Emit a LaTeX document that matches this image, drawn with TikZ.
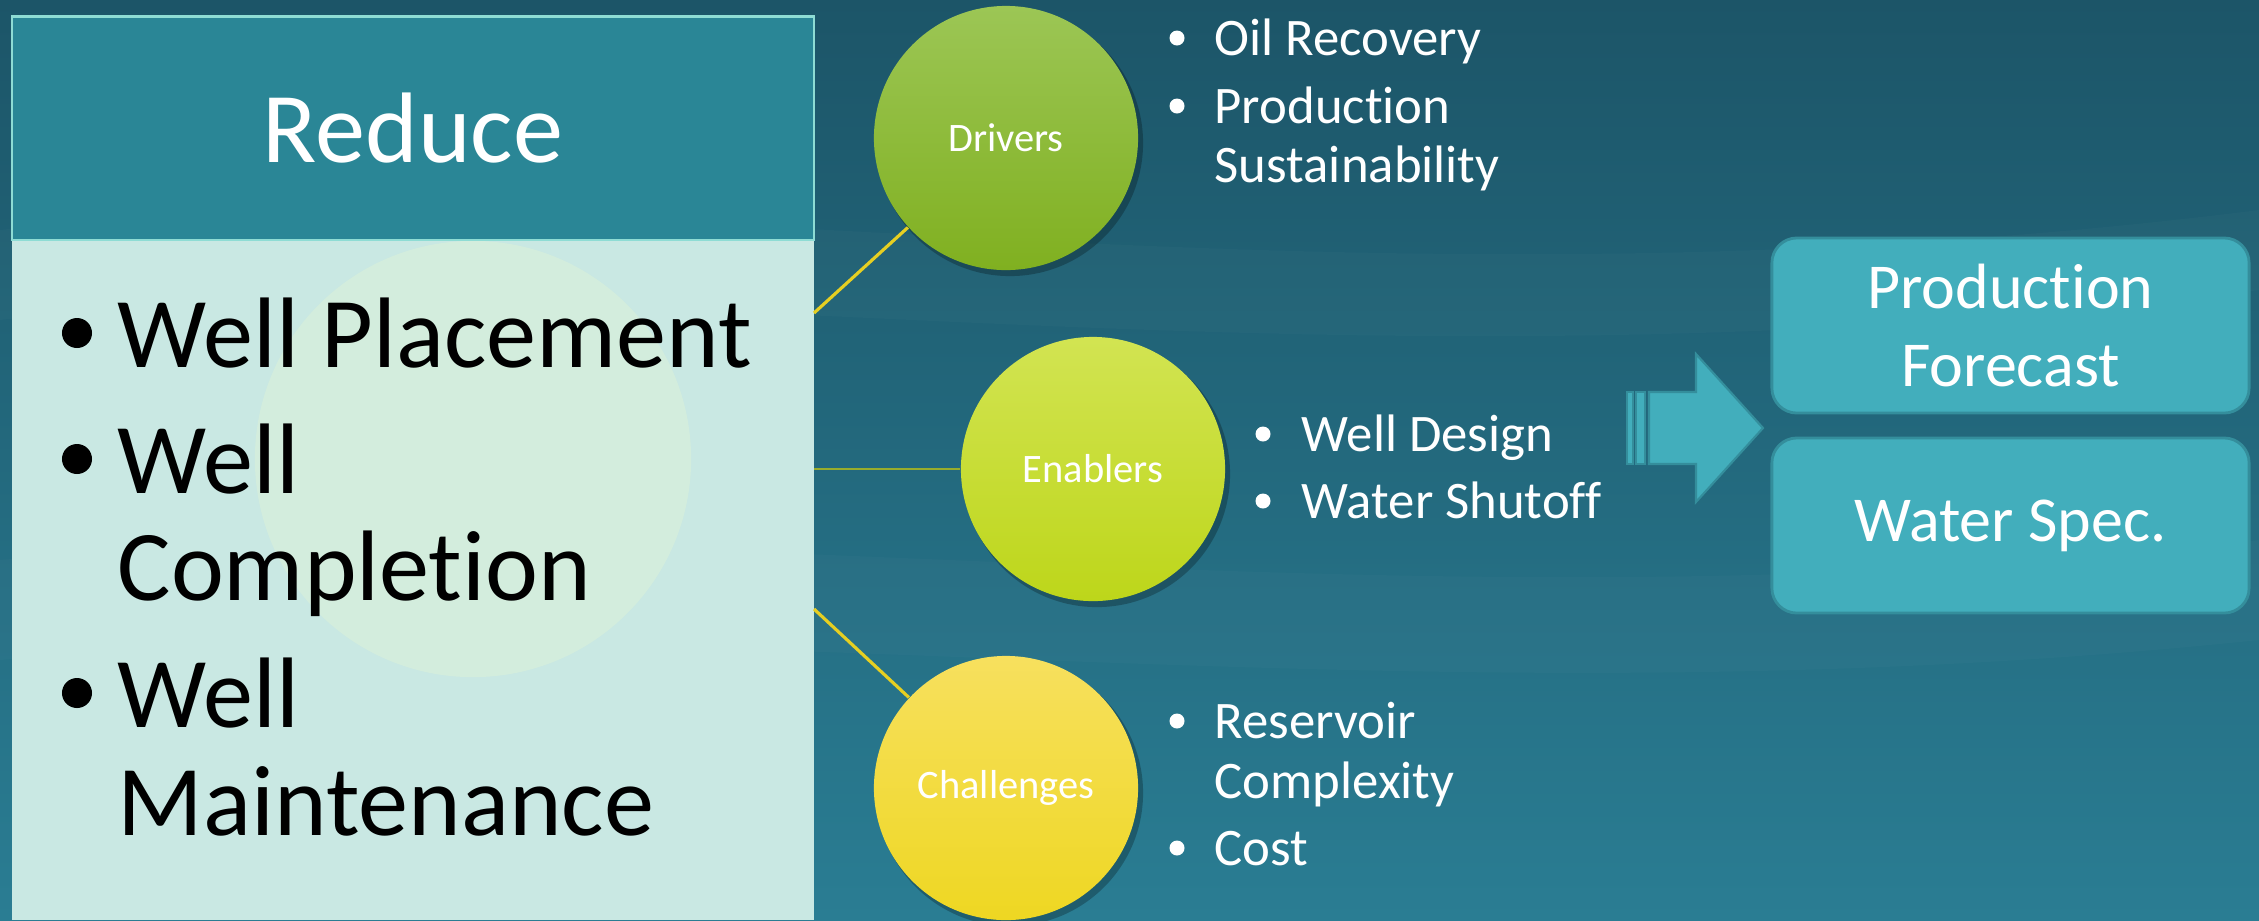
\documentclass[tikz,border=0pt]{standalone}
\usepackage{fontspec}
\setmainfont{Carlito}[Ligatures={NoCommon}]
\usepackage{tikz}

\definecolor{bgtop}{HTML}{1C5568}
\definecolor{bgbot}{HTML}{2A7D93}
\definecolor{headfill}{HTML}{2A8696}
\definecolor{bodyfill}{HTML}{C9E8E3}
\definecolor{ghost}{HTML}{D3EDDD}
\definecolor{rim}{HTML}{8EDCD4}
\definecolor{linkyel}{HTML}{E6CF22}
\definecolor{linkolive}{HTML}{98AC2C}
\definecolor{drvtop}{HTML}{9CC655}
\definecolor{drvbot}{HTML}{80B020}
\definecolor{enbtop}{HTML}{D2E452}
\definecolor{enbbot}{HTML}{BDD61A}
\definecolor{chltop}{HTML}{F7E05E}
\definecolor{chlbot}{HTML}{EED722}
\definecolor{boxfill}{HTML}{42AEBC}
\definecolor{boxline}{HTML}{348E9C}

\begin{document}
\begin{tikzpicture}[x=0.01cm, y=-0.01cm,
  big/.style={inner sep=0pt, anchor=base west, text=black, font=\fontsize{28.5}{30}\selectfont},
  small/.style={inner sep=0pt, anchor=base west, text=white, font=\fontsize{15}{16}\selectfont},
  ball/.style={circle, inner sep=0pt, minimum size=2.64cm, text=white, font=\fontsize{11.5}{13}\selectfont},
  outbox/.style={rounded corners=0.25cm, fill=boxfill, draw=boxline, line width=0.8pt,
    minimum width=4.77cm, minimum height=1.75cm, inner sep=0pt, text=white,
    align=center, font=\fontsize{18.2}{21.9}\selectfont},
  link/.style={linkyel, line width=0.9pt}]

\useasboundingbox (0,0) rectangle (2259,920);

% background sea
\shade[top color=bgtop, bottom color=bgbot] (0,0) rectangle (2259,920);
\fill[white, opacity=0.02] (0,230) .. controls (600,160) and (1300,330) .. (2259,210)
  -- (2259,290) .. controls (1300,410) and (600,250) .. (0,320) -- cycle;
\fill[white, opacity=0.02] (0,560) .. controls (700,500) and (1400,640) .. (2259,540)
  -- (2259,640) .. controls (1400,730) and (700,600) .. (0,660) -- cycle;

% left box
\fill[bodyfill] (12,240) rectangle (814,920);
\fill[ghost] (473,459) circle[radius=2.18cm];
\node[draw=rim, line width=0.6pt, fill=headfill, minimum width=8.02cm, minimum height=2.23cm,
  inner sep=0pt, text=white, font=\fontsize{28.5}{30}\selectfont] (reduce) at (413,128) {Reduce};

\fill (77,333) circle[radius=0.15cm];
\node[big] (wp) at (117,367) {Well Placement};
\fill (77,459) circle[radius=0.15cm];
\node[big] (wc1) at (117,493) {Well};
\node[big] (wc2) at (117,600) {Completion};
\fill (77,693) circle[radius=0.15cm];
\node[big] (wm1) at (117,727) {Well};
\node[big] (wm2) at (117,835) {Maintenance};

% circles
\fill[black, opacity=0.25] (1010,143) circle[radius=1.33cm];
\fill[black, opacity=0.25] (1097,474) circle[radius=1.33cm];
\fill[black, opacity=0.25] (1010,793) circle[radius=1.33cm];
\node[ball, top color=drvtop, bottom color=drvbot] (drivers) at (1006,138) {Drivers};
\node[ball, top color=enbtop, bottom color=enbbot] (enablers) at (1093,469) {Enablers};
\node[ball, top color=chltop, bottom color=chlbot] (challenges) at (1006,788) {Challenges};

\coordinate (dIn) at (814,313);
\coordinate (eIn) at (814,469);
\coordinate (cIn) at (814,609);
\draw[link] (dIn) -- (drivers);
\draw[linkolive, line width=0.6pt] (eIn) -- (enablers);
\draw[link] (cIn) -- (challenges);

% lists
\fill[white] (1177,38) circle[radius=0.075cm];
\node[small] (oil) at (1214,55) {Oil Recovery};
\fill[white] (1177,106) circle[radius=0.075cm];
\node[small] (prod) at (1214,123) {Production};
\node[small] (sust) at (1214,182) {Sustainability};

\fill[white] (1263,434) circle[radius=0.075cm];
\node[small] (design) at (1301,451) {Well Design};
\fill[white] (1263,501) circle[radius=0.075cm];
\node[small] (shutoff) at (1301,518) {Water Shutoff};

\fill[white] (1177,721) circle[radius=0.075cm];
\node[small] (res) at (1214,738) {Reservoir};
\node[small] (cplx) at (1214,798) {Complexity};
\fill[white] (1177,848) circle[radius=0.075cm];
\node[small] (cost) at (1214,865) {Cost};

% striped arrow
\filldraw[fill=boxfill, draw=boxline, line width=0.6pt] (1627,392) rectangle (1633,464);
\filldraw[fill=boxfill, draw=boxline, line width=0.6pt] (1636,392) rectangle (1645,464);
\filldraw[fill=boxfill, draw=boxline, line width=0.6pt] (1649,392) -- (1696,392) -- (1696,354)
  -- (1763,428) -- (1696,502) -- (1696,464) -- (1649,464) -- cycle;

% results
\node[outbox] (forecast) at (2010.5,325.5) {Production\\Forecast};
\node[outbox] (waterspec) at (2010.5,525.5) {Water Spec.};

\end{tikzpicture}
\end{document}
